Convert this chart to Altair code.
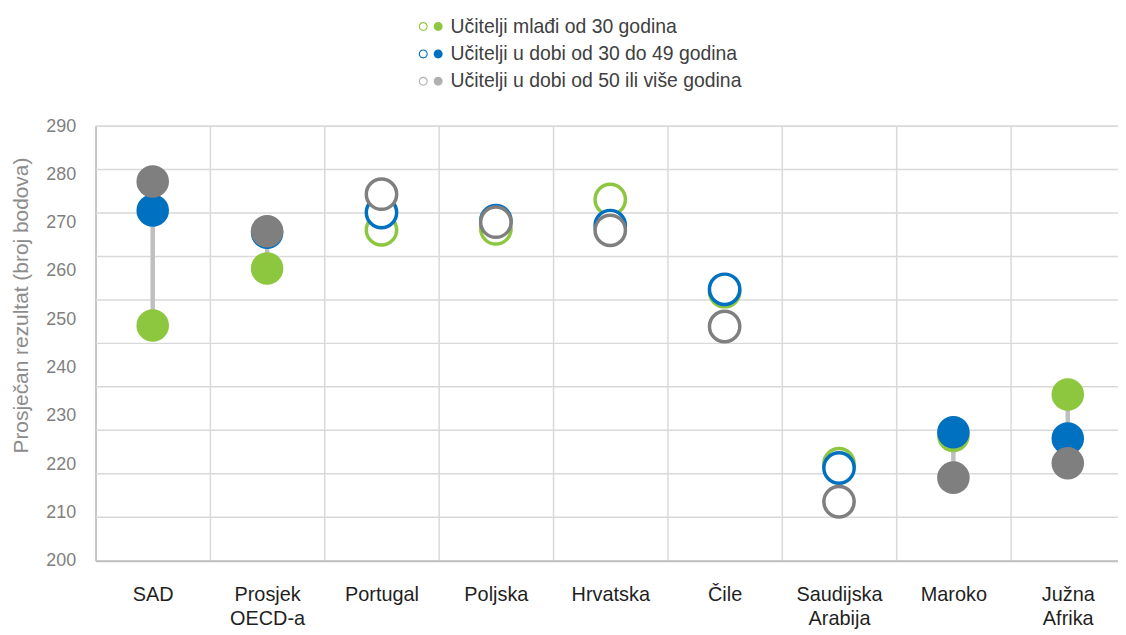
import altair as alt
import pandas as pd

# ---------------- data ----------------
countries = ["SAD", "Prosjek OECD-a", "Portugal", "Poljska", "Hrvatska",
             "Čile", "Saudijska Arabija", "Maroko", "Južna Afrika"]
series_names = ["Učitelji mlađi od 30 godina",
                "Učitelji u dobi od 30 do 49 godina",
                "Učitelji u dobi od 50 ili više godina"]
young = [248.7, 260.5, 268.5, 268.7, 274.8, 255.7, 220.1, 225.8, 234.4]
middle = [272.5, 267.9, 272.1, 270.4, 269.4, 256.2, 219.2, 226.6, 225.3]
older = [278.5, 268.2, 275.9, 270.1, 268.4, 248.5, 212.2, 217.2, 220.2]
significant = [True, True, False, False, False, False, False, True, True]
y_ticks = [200, 210, 220, 230, 240, 250, 260, 270, 280, 290]
grid_values = [209, 218, 227, 236, 245, 254, 263, 272, 281, 290]

series_colors = ["#8DC63F", "#0070C0", "#7F7F7F"]
legend_colors = ["#8DC63F", "#0070C0", "#B0B0B0"]

rows = []
for i, c in enumerate(countries):
    for k, (s, vals) in enumerate(zip(series_names, [young, middle, older])):
        rows.append({"country": c, "series": s, "idx": k,
                     "value": vals[i], "filled": significant[i]})
df = pd.DataFrame(rows)
grid_df = pd.DataFrame({"value": grid_values})

# ---------------- styling ----------------
REG = "Liberation Sans, Arial, sans-serif"
W, H = 1028, 437

x_axis = alt.Axis(title=None, tickBand="extent", grid=True, gridColor="#D9D9D9",
                  gridWidth=1.5, domainColor="#BFBFBF", domainWidth=2, ticks=False,
                  labelAngle=0, labelFont=REG, labelFontSize=20,
                  labelColor="#1F1F1F", labelPadding=24, labelLineHeight=24,
                  labelBaseline="top", labelExpr="split(datum.label, ' ')")
x_enc = alt.X("country:N", sort=countries,
              scale=alt.Scale(range=[0, 1035], paddingInner=0, paddingOuter=0),
              axis=x_axis)

y_axis = alt.Axis(title="Prosječan rezultat (broj bodova)", values=y_ticks,
                  grid=False, ticks=False, domainColor="#BFBFBF", domainWidth=1.5,
                  labelFont=REG, labelFontSize=18, labelColor="#7F7F7F",
                  labelPadding=20, titleFont=REG, titleFontSize=21,
                  titleFontWeight="normal", titleColor="#8C8C8C",
                  titleX=-74, titleY=180, titleBaseline="middle")
y_scale = alt.Scale(domain=[200, 290], nice=False, zero=False)


def yenc(field):
    return alt.Y(f"{field}:Q", scale=y_scale, axis=y_axis)


grid = alt.Chart(grid_df).mark_rule(color="#D9D9D9", strokeWidth=1.5).encode(
    y=yenc("value"), x=alt.value(0), x2=alt.value(1035))

ranges = alt.Chart(df).transform_filter("datum.filled").transform_aggregate(
    lo="min(value)", hi="max(value)", groupby=["country"]
).mark_rule(color="#BFBFBF", strokeWidth=4.5).encode(
    x=x_enc, y=yenc("lo"), y2="hi:Q")

filled_pts = alt.Chart(df).transform_filter("datum.filled").mark_circle(
    size=1070, opacity=1).encode(
    x=x_enc, y=yenc("value"),
    color=alt.Color("series:N", scale=alt.Scale(range=series_colors), legend=None),
    order=alt.Order("idx:Q"))

open_pts = alt.Chart(df).transform_filter("!datum.filled").mark_point(
    shape="circle", size=930, strokeWidth=3.5, opacity=1, fillOpacity=1).encode(
    x=x_enc, y=yenc("value"),
    stroke=alt.Stroke("series:N", scale=alt.Scale(range=series_colors), legend=None),
    fill=alt.value("white"),
    order=alt.Order("idx:Q"))

PATH = ("M -1.2 0 A 0.45 0.45 0 1 1 -0.3 0 A 0.45 0.45 0 1 1 -1.2 0 Z "
        "M -1.09 0 A 0.34 0.34 0 1 0 -0.41 0 A 0.34 0.34 0 1 0 -1.09 0 Z "
        "M 0.3 0 A 0.45 0.45 0 1 1 1.2 0 A 0.45 0.45 0 1 1 0.3 0 Z")

legend_layer = alt.Chart(df).mark_point(size=1, filled=True, shape="circle", opacity=0.01).encode(
    x=x_enc, y=yenc("value"),
    fill=alt.Fill("series:N", scale=alt.Scale(domain=series_names, range=legend_colors),
                  legend=alt.Legend(title=None, orient="none", legendX=327, legendY=-110,
                                    direction="vertical", symbolType=PATH, symbolSize=400,
                                    symbolStrokeWidth=0, symbolOpacity=1,
                                    labelFont=REG, labelFontSize=19.5,
                                    labelColor="#404040", labelOffset=10, rowPadding=7.5,
                                    padding=0, labelLimit=500)))

chart = alt.layer(grid, ranges, filled_pts, open_pts, legend_layer).properties(
    width=W, height=H,
    autosize=alt.AutoSizeParams(type="none"),
    padding={"left": 88, "top": 117, "right": 0, "bottom": 70},
).configure_view(strokeWidth=0).configure(background="white")

chart.save("out.html", embed_options={"renderer": "svg", "actions": False})
